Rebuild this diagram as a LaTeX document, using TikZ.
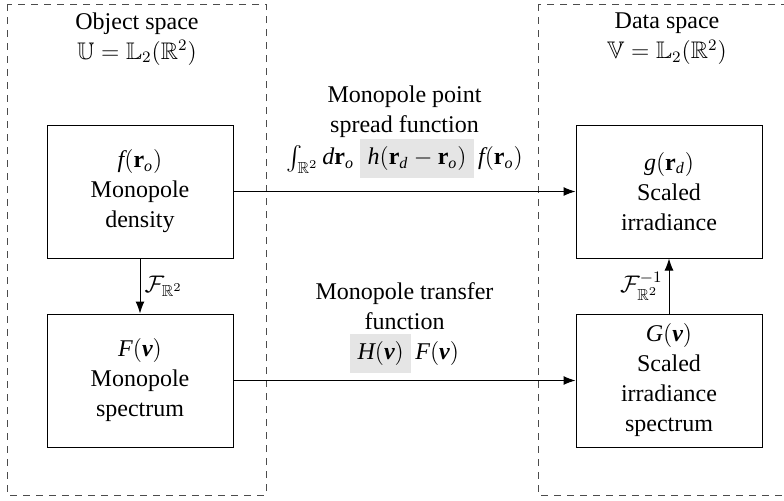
\documentclass[tikz,border=0pt]{standalone}
\usepackage{amsmath,amssymb}
\usepackage{fontspec}
\setmainfont{Liberation Serif}[NFSSFamily=libserif]
\usetikzlibrary{arrows.meta}
\DeclareSymbolFont{txtit}{TU}{libserif}{m}{it}
\DeclareSymbolFont{txtrm}{TU}{libserif}{m}{n}
\SetMathAlphabet{\mathbf}{normal}{TU}{libserif}{b}{n}
\DeclareMathSymbol{d}{\mathalpha}{txtit}{`d}
\DeclareMathSymbol{f}{\mathalpha}{txtit}{`f}
\DeclareMathSymbol{g}{\mathalpha}{txtit}{`g}
\DeclareMathSymbol{h}{\mathalpha}{txtit}{`h}
\DeclareMathSymbol{o}{\mathalpha}{txtit}{`o}
\DeclareMathSymbol{F}{\mathalpha}{txtit}{`F}
\DeclareMathSymbol{G}{\mathalpha}{txtit}{`G}
\DeclareMathSymbol{H}{\mathalpha}{txtit}{`H}
\DeclareMathSymbol{(}{\mathopen}{txtrm}{`(}
\DeclareMathSymbol{)}{\mathclose}{txtrm}{`)}
\DeclareMathSymbol{1}{\mathalpha}{txtrm}{`1}
\DeclareMathSymbol{2}{\mathalpha}{txtrm}{`2}
\newcommand{\bnu}{\text{\bfseries\itshape ν}}
\setlength{\fboxsep}{3.8pt}
\tikzset{
  spacebox/.style={draw=black!70, dash pattern=on 3.5pt off 3pt, line width=0.5pt},
  block/.style={draw, line width=0.5pt, minimum width=93pt, minimum height=66.5pt, align=center, inner sep=0pt},
  flow/.style={-{Latex[length=6pt,width=4.5pt]}, line width=0.5pt},
}
\newcommand{\hl}[1]{\colorbox{black!10}{$#1$}}

\begin{document}
\begin{tikzpicture}[x=0.5pt,y=-0.5pt,font=\rmfamily\fontsize{12}{15}\selectfont]
  \useasboundingbox (0,0) rectangle (784,500);
  \draw[spacebox] (7,4) rectangle (266,495);
  \draw[spacebox] (538,4) rectangle (796,495);
  \node[align=center] (objlabel) at (137,39) {Object space\\$\mathbb{U}=\mathbb{L}_2(\mathbb{R}^2)$};
  \node[align=center] (datalabel) at (667,39) {Data space\\$\mathbb{V}=\mathbb{L}_2(\mathbb{R}^2)$};
  \node[block] (density) at (140,191.5) {$f(\mathbf{r}_o)$\\Monopole\\density};
  \node[block] (spectrum) at (140,380.5) {$F(\bnu)$\\Monopole\\spectrum};
  \node[block] (irradiance) at (669,191.5) {$g(\mathbf{r}_d)$\\Scaled\\irradiance};
  \node[block] (irrspectrum) at (669,380.5) {$G(\bnu)$\\Scaled\\irradiance\\spectrum};
  \draw[flow] (density) -- node[right, inner sep=2pt] {$\mathcal{F}_{\mathbb{R}^2}$} (spectrum);
  \draw[flow] (irrspectrum) -- node[left, inner sep=1pt, xshift=-2pt] {$\mathcal{F}^{-1}_{\mathbb{R}^2}$} (irradiance);
  \draw[flow] (density) -- node[above, align=center, yshift=3pt] {Monopole point\\spread function\\$\int_{\mathbb{R}^2} d\mathbf{r}_o\ \hl{h(\mathbf{r}_d-\mathbf{r}_o)}\, f(\mathbf{r}_o)$} (irradiance);
  \draw[flow] (spectrum) -- node[above, align=center] {Monopole transfer\\function\\$\hl{H(\bnu)}\, F(\bnu)$} (irrspectrum);
\end{tikzpicture}
\end{document}
